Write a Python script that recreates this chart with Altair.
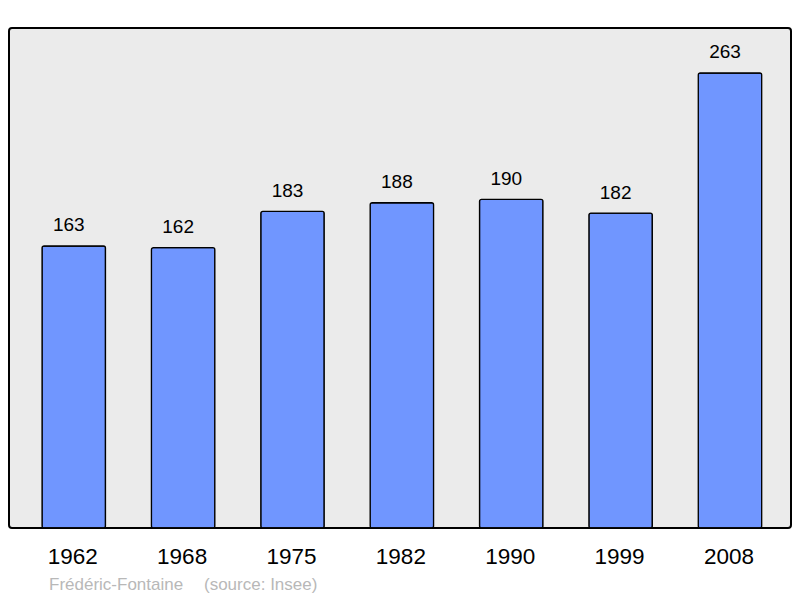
import altair as alt
import pandas as pd

years = ["1962", "1968", "1975", "1982", "1990", "1999", "2008"]
population = [163, 162, 183, 188, 190, 182, 263]
author = "Frédéric-Fontaine"
source = "(source: Insee)"

df = pd.DataFrame({"year": years, "pop": population})

x = alt.X("year:N", sort=None, axis=None,
          scale=alt.Scale(type="band", paddingInner=0.42, paddingOuter=0.285, align=0.53))
y = alt.Y("pop:Q", axis=None, scale=alt.Scale(domain=[0, 289], nice=False, zero=True))

base = alt.Chart(df)

bars = base.mark_bar(color="#7096ff", stroke="black", strokeWidth=1.3,
                     cornerRadius=2).encode(x=x, y=y)

values = base.mark_text(fontSize=19, font="Liberation Sans", baseline="alphabetic",
                        dy=-14.5, dx=-5, color="black").encode(x=x, y=y, text="pop:Q")

year_labels = base.mark_text(fontSize=22.5, font="Liberation Sans", baseline="alphabetic",
                             dx=-1, color="black").encode(x=x, y=alt.value(536), text="year:N")

foot1 = alt.Chart(pd.DataFrame({"t": [author]})).mark_text(
    fontSize=17, font="Liberation Sans", align="left", baseline="alphabetic",
    color="#b8b8b8").encode(x=alt.value(40), y=alt.value(562), text="t:N")
foot2 = alt.Chart(pd.DataFrame({"t": [source]})).mark_text(
    fontSize=17, font="Liberation Sans", align="left", baseline="alphabetic",
    color="#b8b8b8").encode(x=alt.value(195), y=alt.value(562), text="t:N")

chart = alt.layer(bars, values, year_labels, foot1, foot2).properties(
    width=782, height=500,
    autosize=alt.AutoSizeParams(type="none"),
    padding={"left": 1, "top": 20, "right": 1, "bottom": 68},
).configure_view(
    fill="#ebebeb", stroke="black", strokeWidth=2, cornerRadius=3
)

chart.save("out.html", embed_options={"renderer": "svg", "actions": False})
